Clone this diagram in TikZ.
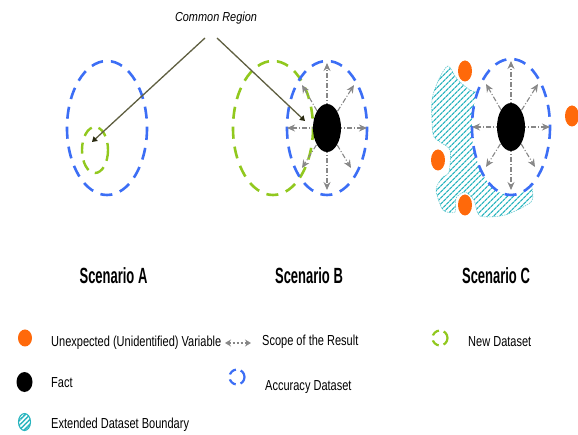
\documentclass[tikz,border=0pt]{standalone}
\usepackage{fontspec}
\setmainfont{Liberation Sans}
\newfontfamily\legendfont[FakeStretch=0.76]{Liberation Sans}
\newfontfamily\titlefont[FakeStretch=0.59]{Liberation Sans Bold}
\newfontfamily\calloutfont[FakeStretch=0.84]{Liberation Sans Italic}
\usetikzlibrary{arrows.meta,patterns.meta}

\definecolor{accblue}{RGB}{60,110,245}
\definecolor{newgreen}{RGB}{145,200,30}
\definecolor{varorange}{RGB}{255,105,10}
\definecolor{scopegray}{RGB}{135,135,135}
\definecolor{hatchcyan}{RGB}{40,180,190}
\definecolor{pointer}{RGB}{95,95,65}
\definecolor{pointertip}{RGB}{40,40,15}

\tikzset{
  accuracy/.style={draw=accblue, line width=2.6pt, dash pattern=on 12pt off 8pt},
  newdata/.style={draw=newgreen, line width=2.6pt, dash pattern=on 12pt off 8pt},
  scopearrow/.style={draw=scopegray, line width=1.1pt,
    dash pattern=on 5pt off 2pt on 1pt off 2pt,
    -{Stealth[length=8pt,width=7pt,fill=scopegray!85]}},
  pointerline/.style={draw=pointer, line width=1.3pt,
    -{Triangle[length=5pt,width=6pt,color=pointertip]}},
  hatch/.style={pattern={Lines[angle=45,distance=4pt,line width=1.3pt]},
    pattern color=hatchcyan},
  legendtext/.style={anchor=west, inner sep=0pt, font=\legendfont\fontsize{14.5}{16}\selectfont},
  scenariotext/.style={inner sep=0pt, font=\titlefont\fontsize{22}{24}\selectfont},
}

\begin{document}
\begin{tikzpicture}[x=1pt,y=-1pt]
  \useasboundingbox (0,0) rectangle (578,435);

  % centres of the three scenarios
  \coordinate (Acen) at (107,128);
  \coordinate (Anew) at (95,150);
  \coordinate (Bnew) at (273,128);
  \coordinate (Bcen) at (327,128);
  \coordinate (Ccen) at (511,127);

  % ---------- Scenario A ----------
  \draw[accuracy] (Acen) ellipse [x radius=40, y radius=67];
  \draw[newdata, line width=2.4pt, dash pattern=on 11pt off 7pt] (Anew) ellipse [x radius=13, y radius=23];

  % ---------- Scenario B ----------
  \draw[newdata] (Bnew) ellipse [x radius=40, y radius=67];
  \draw[accuracy] (Bcen) ellipse [x radius=40, y radius=67];
  \foreach \dx/\dy in {0/-65, 0/62, -40/0, 40/0, 27/-43, -25/-43, 24/40, -25/40}
    \draw[scopearrow] (Bcen) -- ++(\dx,\dy);
  \fill[black] (Bcen) ellipse [x radius=14, y radius=24];

  % ---------- Scenario C ----------
  % extended dataset boundary (hatched crescent)
  \path[hatch, draw=hatchcyan!70, line width=0.6pt, dash pattern=on 1.5pt off 1pt]
    plot[smooth cycle, tension=0.45] coordinates {
      (448,66) (457,79) (470,90) (490,100) (500,150) (528,178)
      (532,188) (531,202) (505,215) (480,216) (474,200) (465,192)
      (456,198) (455,212) (443,210) (436,190) (442,178) (449,172)
      (450,150) (440,142) (433,134) (432,100) (439,79)};
  \fill[white] (Ccen) ellipse [x radius=39, y radius=68];
  \draw[accuracy] (Ccen) ellipse [x radius=39, y radius=68];
  \foreach \dx/\dy in {0/-66, 0/63, -39/0, 39/0, 27/-43, -25/-43, 24/40, -25/40}
    \draw[scopearrow] (Ccen) -- ++(\dx,\dy);
  \fill[black] (Ccen) ellipse [x radius=14, y radius=24];
  \foreach \p in {(465,71),(572,116),(438,160),(465,205)}
    \fill[varorange] \p ellipse [x radius=7, y radius=10.5];

  % ---------- callout ----------
  \node[inner sep=1pt, font=\calloutfont\fontsize{13}{15}\selectfont] (common) at (216,18) {Common Region};
  \coordinate (pA0) at (205,38);
  \coordinate (pB0) at (217,38);
  \coordinate (pA1) at (92,142);
  \coordinate (pB1) at (305,121);
  \draw[pointerline] (pA0) -- (pA1);
  \draw[pointerline] (pB0) -- (pB1);

  % ---------- scenario titles ----------
  \node[scenariotext] (titleA) at (113.5,276) {Scenario A};
  \node[scenariotext] (titleB) at (309,276) {Scenario B};
  \node[scenariotext] (titleC) at (496,276) {Scenario C};

  % ---------- legend ----------
  \fill[varorange] (25,338) ellipse [x radius=7, y radius=8.5];
  \node[legendtext] (lgVar) at (51,343) {Unexpected (Unidentified) Variable};

  \fill[black] (24.5,382) ellipse [x radius=8, y radius=10];
  \node[legendtext] (lgFact) at (51,383) {Fact};

  \path[pattern={Lines[angle=45,distance=3.4pt,line width=1.5pt]}, pattern color=hatchcyan,
        draw=hatchcyan, line width=1.1pt] (24.5,422) ellipse [x radius=6, y radius=8.5];
  \node[legendtext] (lgExt) at (51,425) {Extended Dataset Boundary};

  \coordinate (sc0) at (225,343);
  \coordinate (sc1) at (251,343);
  \draw[draw=scopegray, line width=1.1pt, dash pattern=on 2pt off 2pt,
        {Stealth[length=6pt,width=7pt,fill=scopegray!85]}-{Stealth[length=6pt,width=7pt,fill=scopegray!85]}]
        (sc0) -- (sc1);
  \node[legendtext] (lgScope) at (262,342) {Scope of the Result};

  \draw[accuracy, line width=2.2pt, dash pattern=on 8pt off 5pt] (237,377) circle [radius=7.5];
  \node[legendtext] (lgAcc) at (265,387) {Accuracy Dataset};

  \draw[newdata, line width=2.2pt, dash pattern=on 8pt off 5pt] (440,338) circle [radius=7.5];
  \node[legendtext] (lgNew) at (468,342) {New Dataset};
\end{tikzpicture}
\end{document}
